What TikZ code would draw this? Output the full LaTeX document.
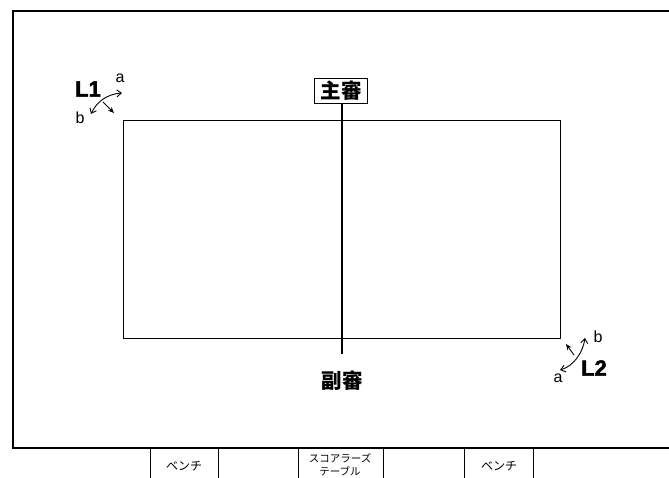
\documentclass[tikz,border=0pt]{standalone}
\usepackage{fontspec}
\setmainfont{Liberation Sans}
\newfontfamily\jp{Noto Sans CJK JP}
\newfontfamily\heavy[BoldFeatures={FakeBold=2}]{Liberation Sans}
\usetikzlibrary{arrows.meta}
\begin{document}
\begin{tikzpicture}[x=1pt,y=-1pt,
  frame/.style={line width=1.3pt},
  court/.style={line width=0.9pt},
  centerline/.style={line width=2.6pt},
  ref/.style={draw,line width=1.2pt,inner xsep=6pt,inner ysep=3pt,font=\jp\bfseries\fontsize{20.5}{20.5}\selectfont},
  reflabel/.style={font=\jp\bfseries\fontsize{20.5}{20.5}\selectfont},
  lineslabel/.style={font=\heavy\bfseries\fontsize{22}{22}\selectfont},
  letter/.style={font=\fontsize{16}{16}\selectfont},
  bench/.style={font=\jp\fontsize{12}{12}\selectfont},
  small/.style={font=\jp\fontsize{10.5}{13.5}\selectfont,align=center},
  swing/.style={line width=0.9pt,{Straight Barb[length=4.5pt,width=7pt]}-{Straight Barb[length=4.5pt,width=7pt]}},
  turn/.style={line width=0.9pt,-{Stealth[length=6pt,width=5pt]}}]
\useasboundingbox (0,0) rectangle (669,478);
% outer frame
\draw[frame] (669,11) -- (13,11) -- (13,448) -- (669,448);
% bench / table separators
\foreach \x in {150,218,298,383,464,533} \draw[line width=1pt] (\x,448) -- (\x,478);
\node[bench] (bench1) at (184,466) {ベンチ};
\node[small] (table) at (340,465) {スコアラーズ\\テーブル};
\node[bench] (bench2) at (499,466) {ベンチ};
% court
\draw[court] (123,120) rectangle (560,338);
% referee
\node[ref] (main) at (341,91) {主審};
\coordinate (lineend) at (342,354);
\draw[centerline] (main.south -| lineend) -- (lineend);
\node[reflabel] (sub) at (342,381) {副審};
% L1
\node[lineslabel] (L1) at (88,89) {L1};
\node[letter] (a1) at (120,78) {a};
\node[letter] (b1) at (80,118) {b};
\coordinate (l1s) at (91,114);
\coordinate (l1e) at (122,93);
\draw[swing] (l1s) .. controls (97,101) and (108,94) .. (l1e);
\coordinate (l1m) at (103,102);
\coordinate (l1t) at (114,113);
\draw[turn] (l1m) -- (l1t);
% L2
\node[lineslabel] (L2) at (594,368) {L2};
\node[letter] (a2) at (558,378) {a};
\node[letter] (b2) at (598,337) {b};
\coordinate (l2s) at (560,370);
\coordinate (l2e) at (585,338);
\draw[swing] (l2s) .. controls (574,366) and (583,352) .. (l2e);
\coordinate (l2m) at (574,355);
\coordinate (l2t) at (566,344);
\draw[turn] (l2m) -- (l2t);
\end{tikzpicture}
\end{document}
